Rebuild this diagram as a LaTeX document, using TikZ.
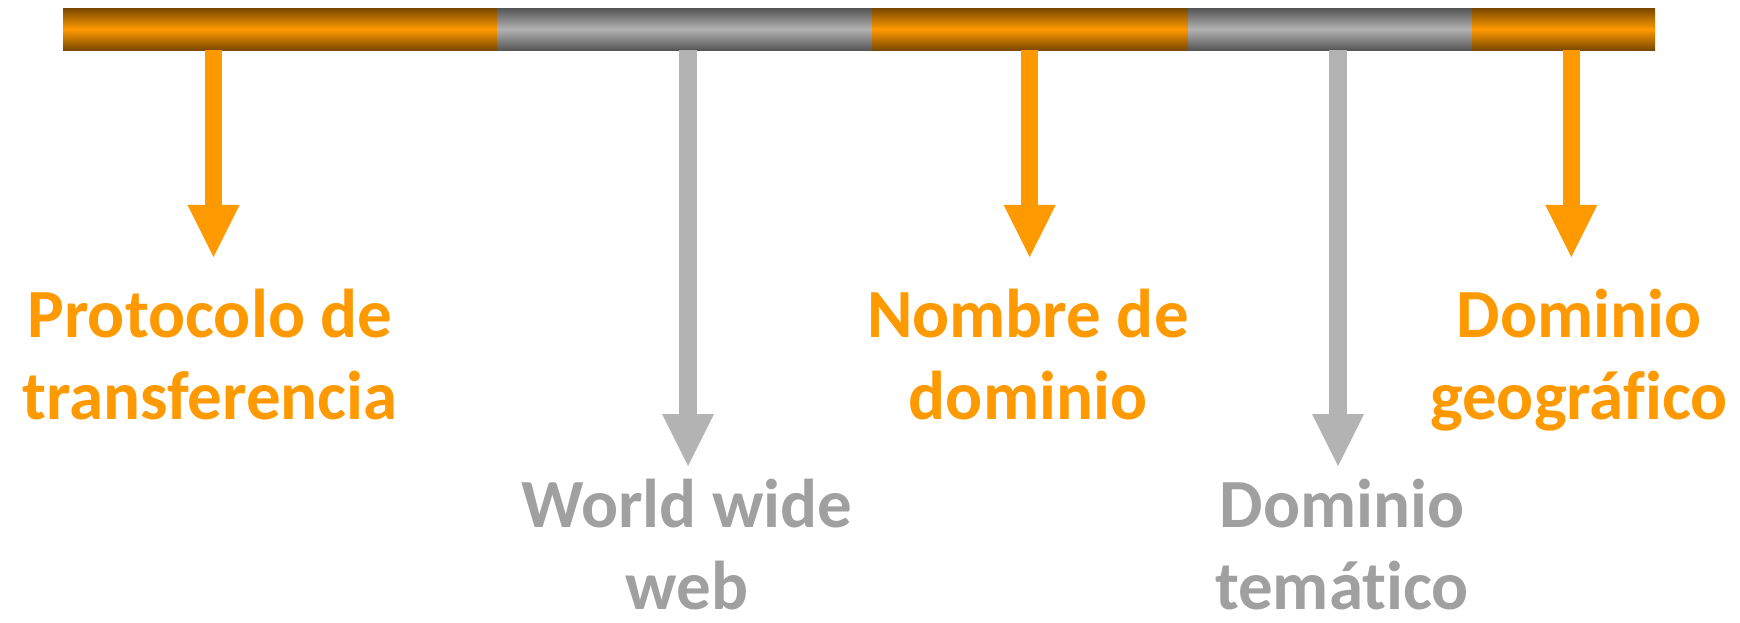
\documentclass[tikz,border=0pt]{standalone}
\usepackage{fontspec}
\setmainfont[Ligatures=NoCommon]{Carlito}
\usetikzlibrary{arrows.meta}
\definecolor{orA}{HTML}{FF9900}
\definecolor{orD}{HTML}{7A4800}
\definecolor{grA}{HTML}{B3B3B3}
\definecolor{grD}{HTML}{555555}
\definecolor{grT}{HTML}{A0A0A0}
\tikzset{
  seg/.style={rectangle, inner sep=0pt, minimum height=42bp, anchor=north west},
  orseg/.style={seg, top color=orD, bottom color=orD, middle color=orA},
  grseg/.style={seg, top color=grD, bottom color=grD, middle color=grA},
  arr/.style={line width=17.5bp, -{Triangle[length=52bp 0 0, width=52bp 0 0, line width=0pt]}},
  orarr/.style={arr, draw=orA, fill=orA},
  grarr/.style={arr, draw=grA, fill=grA},
  lbl/.style={align=center, inner sep=0pt, anchor=base, text depth=0pt, font=\bfseries\fontsize{69bp}{82bp}\selectfont},
  orlbl/.style={lbl, text=orA},
  grlbl/.style={lbl, text=grT},
}
\begin{document}
\begin{tikzpicture}[x=1bp, y=-1bp]
\useasboundingbox (0,0) rectangle (1740,623);
\node[orseg, minimum width=434bp] (s1) at (63,8) {};
\node[grseg, minimum width=375bp] (s2) at (497,8) {};
\node[orseg, minimum width=316bp] (s3) at (872,8) {};
\node[grseg, minimum width=284bp] (s4) at (1188,8) {};
\node[orseg, minimum width=183bp] (s5) at (1472,8) {};
\coordinate (t1) at (213.5,257);
\coordinate (t2) at (688,466);
\coordinate (t3) at (1029.7,257);
\coordinate (t4) at (1338,466);
\coordinate (t5) at (1571.3,257);
\draw[orarr] (t1 |- s1.south) -- (t1);
\draw[grarr] (t2 |- s2.south) -- (t2);
\draw[orarr] (t3 |- s3.south) -- (t3);
\draw[grarr] (t4 |- s4.south) -- (t4);
\draw[orarr] (t5 |- s5.south) -- (t5);
\node[orlbl] (l1) at (210,419) {Protocolo de\\transferencia};
\node[grlbl] (l2) at (687,609) {World wide\\web};
\node[orlbl] (l3) at (1028,419) {Nombre de\\dominio};
\node[grlbl] (l4) at (1342,609) {Dominio\\temático};
\node[orlbl] (l5) at (1579,419) {Dominio\\geográfico};
\end{tikzpicture}
\end{document}
